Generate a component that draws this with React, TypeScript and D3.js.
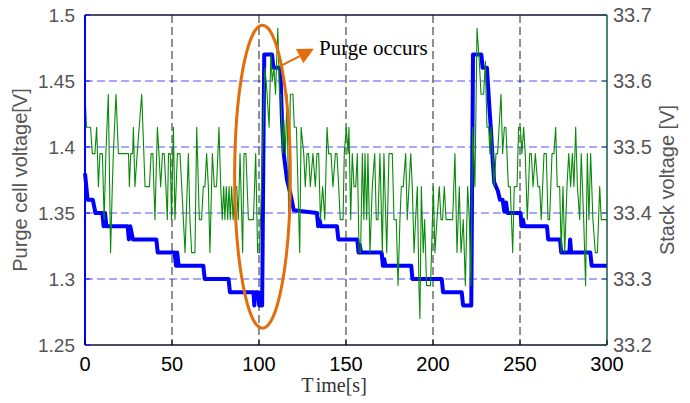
import React from "react";
import * as d3 from "d3";

// ---- data ----
const timeTicks = [0, 50, 100, 150, 200, 250, 300];
const leftTicks = [1.25, 1.3, 1.35, 1.4, 1.45, 1.5];
const rightTicks = [33.2, 33.3, 33.4, 33.5, 33.6, 33.7];

// Purge cell voltage [V] (left axis): [time s, value]
const purgeCell: [number, number][] = [
  [0, 1.38], [1.5, 1.36], [4.5, 1.36], [6, 1.35], [10, 1.35], [10.7, 1.34], [11.5, 1.35], [12.3, 1.34],
  [24.5, 1.34], [25.2, 1.33], [26, 1.34], [27.5, 1.33], [41, 1.33], [41.8, 1.32], [51.5, 1.32], [52.3, 1.31],
  [53, 1.32], [53.8, 1.31], [68, 1.31], [68.8, 1.3], [82.5, 1.3], [83.3, 1.29], [96.8, 1.29], [97.3, 1.28],
  [97.9, 1.29], [99.6, 1.29], [100.1, 1.28], [101.8, 1.28], [103, 1.47], [107.5, 1.47], [108.3, 1.46],
  [112.3, 1.46], [113.2, 1.42], [114.2, 1.395], [116.1, 1.375], [118, 1.365], [120, 1.352], [133.3, 1.35],
  [134, 1.34], [134.8, 1.345], [135.5, 1.34], [144.8, 1.34], [145.6, 1.33], [156.5, 1.33], [157.2, 1.32],
  [157.9, 1.326], [158.6, 1.32], [170.5, 1.32], [171.2, 1.31], [172, 1.315], [172.6, 1.31], [187.5, 1.31],
  [188.2, 1.3], [205, 1.3], [205.8, 1.29], [216.5, 1.29], [217.3, 1.28], [222, 1.28], [223, 1.47],
  [227.8, 1.47], [228.5, 1.46], [231, 1.46], [232.4, 1.43], [233.3, 1.413], [234.3, 1.39], [235.2, 1.373],
  [237.2, 1.367], [238.5, 1.36], [240, 1.36], [241, 1.351], [242, 1.358], [242.8, 1.35], [250.3, 1.35],
  [251, 1.34], [251.7, 1.345], [252.4, 1.34], [265.5, 1.34], [266.2, 1.33], [273, 1.33], [273.7, 1.32],
  [278.4, 1.32], [278.8, 1.33], [279.4, 1.32], [290.4, 1.32], [291.2, 1.31], [300, 1.31],
];

// Stack voltage [V] (right axis): [time s, value]
const stackVoltage: [number, number][] = [
  [0, 33.58], [0.9, 33.53], [3.2, 33.53], [4.2, 33.49], [5.7, 33.49], [6.7, 33.53], [7.7, 33.44], [8.6, 33.49],
  [10, 33.49], [11, 33.39], [12, 33.49], [13.4, 33.58], [14.7, 33.34], [15.7, 33.44], [16.3, 33.49], [17.8, 33.58],
  [19.2, 33.49], [25, 33.49], [25.5, 33.44], [26.3, 33.49], [27.4, 33.49], [27.8, 33.53], [28.7, 33.44], [30, 33.49],
  [32.6, 33.58], [34.5, 33.44], [37, 33.44], [38, 33.49], [39, 33.49], [40.2, 33.39], [41.6, 33.53], [42.5, 33.49],
  [43.5, 33.44], [44.5, 33.49], [45.5, 33.49], [46.5, 33.44], [47.3, 33.39], [48, 33.49], [49, 33.49], [49.7, 33.39],
  [50.8, 33.53], [51.7, 33.39], [53.1, 33.49], [54.6, 33.49], [55.6, 33.44], [57.5, 33.34], [59.4, 33.49], [60.3, 33.39],
  [61.3, 33.34], [63.2, 33.34], [64.2, 33.53], [65.7, 33.39], [67.0, 33.39], [68.0, 33.44], [68.9, 33.44], [69.9, 33.49],
  [70.9, 33.44], [71.8, 33.34], [73.2, 33.49], [74.3, 33.44], [75.6, 33.44], [77.0, 33.53], [78.0, 33.44], [78.9, 33.39],
  [79.7, 33.44], [80.4, 33.39], [81.2, 33.44], [82.0, 33.39], [82.8, 33.44], [83.5, 33.39], [84.3, 33.44], [85.1, 33.39],
  [86.2, 33.44], [87.2, 33.44], [88.1, 33.39], [89.1, 33.49], [90.6, 33.34], [91.4, 33.49], [92.5, 33.49], [93.9, 33.39],
  [96.8, 33.39], [98.1, 33.49], [99.2, 33.34], [100.3, 33.34], [101.5, 33.45], [103.4, 33.62], [104.4, 33.59], [105.8, 33.53],
  [106.8, 33.64], [107.6, 33.6], [108.6, 33.62], [109.5, 33.58], [110.8, 33.68], [111.8, 33.58], [112.6, 33.58], [113.5, 33.49],
  [114.3, 33.54], [115.2, 33.49], [116.1, 33.58], [117.1, 33.39], [118, 33.58], [119.5, 33.58], [120.3, 33.53], [121.5, 33.53],
  [123.4, 33.34], [124.2, 33.53], [125.7, 33.49], [126.6, 33.44], [127.6, 33.49], [128.5, 33.49], [129.5, 33.44], [131.0, 33.49],
  [132.4, 33.44], [133.3, 33.49], [134.3, 33.49], [135.3, 33.39], [136.6, 33.44], [137.8, 33.39], [139.1, 33.53], [140.0, 33.49],
  [141.4, 33.49], [142.5, 33.44], [143.9, 33.49], [144.8, 33.49], [145.8, 33.44], [146.7, 33.39], [148.3, 33.39], [149.0, 33.49],
  [150.2, 33.53], [151.2, 33.49], [151.7, 33.53], [152.7, 33.39], [153.6, 33.49], [154.6, 33.44], [155.6, 33.44], [156.5, 33.49],
  [157.5, 33.34], [158.4, 33.34], [159.4, 33.49], [160.3, 33.39], [160.9, 33.49], [161.9, 33.39], [162.6, 33.49], [163.8, 33.34],
  [165.1, 33.44], [166.5, 33.49], [167.4, 33.39], [168.4, 33.39], [169.5, 33.49], [170.9, 33.34], [171.8, 33.49], [173.4, 33.34],
  [174.7, 33.49], [176.6, 33.49], [177.6, 33.39], [178.9, 33.39], [179.9, 33.29], [181.0, 33.39], [181.8, 33.44], [182.9, 33.44],
  [184.3, 33.49], [185.2, 33.39], [186.2, 33.44], [187.2, 33.49], [188.1, 33.44], [189.1, 33.34], [190.0, 33.39], [191.0, 33.44],
  [191.9, 33.29], [192.5, 33.24], [193.3, 33.44], [194.4, 33.34], [195.2, 33.39], [196.3, 33.29], [197.7, 33.29], [198.6, 33.29],
  [200.2, 33.44], [201.1, 33.34], [202.3, 33.39], [203.6, 33.44], [204.6, 33.39], [205.5, 33.39], [206.5, 33.44], [207.5, 33.39],
  [211.3, 33.39], [212.6, 33.49], [213.8, 33.34], [215.1, 33.44], [216.1, 33.34], [217.4, 33.39], [218.6, 33.29], [219.9, 33.44],
  [220.9, 33.39], [221.8, 33.29], [222.8, 33.53], [224.1, 33.44], [225.3, 33.68], [226.6, 33.63], [227.6, 33.58], [229.1, 33.58],
  [230.1, 33.63], [231.0, 33.53], [232.0, 33.53], [232.7, 33.49], [233.3, 33.53], [234.3, 33.49], [235.2, 33.44], [236.2, 33.49],
  [237.1, 33.49], [239.1, 33.58], [240.0, 33.49], [241.0, 33.53], [241.9, 33.53], [243.3, 33.44], [244.4, 33.44], [245.8, 33.34],
  [246.7, 33.44], [248.3, 33.44], [249.2, 33.53], [250.2, 33.53], [251.1, 33.49], [252.1, 33.53], [253.0, 33.49], [254.2, 33.39],
  [255.6, 33.49], [256.5, 33.49], [257.5, 33.44], [258.8, 33.49], [260.3, 33.44], [261.3, 33.44], [262.2, 33.39], [263.8, 33.49],
  [265.1, 33.49], [266.1, 33.39], [267.0, 33.39], [268.4, 33.49], [269.5, 33.49], [270.5, 33.53], [271.4, 33.44], [272.8, 33.44],
  [273.7, 33.34], [274.7, 33.44], [275.7, 33.34], [277.0, 33.44], [278.0, 33.49], [279.1, 33.44], [280.1, 33.49], [281.0, 33.44],
  [282.0, 33.53], [283.0, 33.44], [284.3, 33.39], [285.2, 33.49], [286.6, 33.39], [287.7, 33.29], [288.7, 33.49], [289.6, 33.39],
  [290.6, 33.49], [291.9, 33.39], [293.3, 33.34], [294.5, 33.34], [295.8, 33.44], [296.7, 33.39], [298.3, 33.39], [300, 33.39],
];

// annotation (data coordinates: time, left-axis value)
const purgeEllipse = { t: 102, v: 1.3775, halfT: 16, halfV: 0.1148 };
const purgeArrow = { from: [112, 1.461], to: [131.5, 1.4745] };
const purgeLabel = { t: 134.5, v: 1.47, text: "Purge occurs" };

const W = 690;
const H = 403;
const L = 85, R = 607, T = 15, B = 345;

export default function App() {
  const x = d3.scaleLinear().domain([0, 300]).range([L, R]);
  const yL = d3.scaleLinear().domain([1.25, 1.5]).range([B, T]);
  const yR = d3.scaleLinear().domain([33.2, 33.7]).range([B, T]);

  const blueLine = d3.line<[number, number]>().x((d) => x(d[0])).y((d) => yL(d[1]))(purgeCell) || "";
  const greenLine = d3.line<[number, number]>().x((d) => x(d[0])).y((d) => yR(d[1]))(stackVoltage) || "";

  const ecx = x(purgeEllipse.t);
  const ecy = yL(purgeEllipse.v);
  const erx = x(purgeEllipse.t + purgeEllipse.halfT) - ecx;
  const ery = yL(purgeEllipse.v - purgeEllipse.halfV) - ecy;

  const ax1 = x(purgeArrow.from[0]), ay1 = yL(purgeArrow.from[1]);
  const ax2 = x(purgeArrow.to[0]), ay2 = yL(purgeArrow.to[1]);
  const ang = Math.atan2(ay2 - ay1, ax2 - ax1);
  const headLen = 16, headW = 8;
  const bx = ax2 - headLen * Math.cos(ang), by = ay2 - headLen * Math.sin(ang);
  const px = -Math.sin(ang), py = Math.cos(ang);
  const head = `${ax2},${ay2} ${bx + px * headW},${by + py * headW} ${bx - px * headW},${by - py * headW}`;

  const orange = "#e46c0a";
  const sans = "Liberation Sans, Arial, sans-serif";
  const serif = "Liberation Serif, Times New Roman, serif";

  return (
    <svg width={W} height={H} style={{ position: "absolute", left: 0, top: 0, background: "#fff" }}>
      <rect x={0} y={0} width={W} height={H} fill="#fff" />
      {/* grid */}
      {leftTicks.filter((v) => v > 1.25 && v < 1.5).map((v) => (
        <line key={"hg" + v} x1={L} x2={R} y1={yL(v)} y2={yL(v)} stroke="#5050ff" strokeWidth={1} strokeDasharray="8,4" />
      ))}
      {timeTicks.filter((t) => t > 0 && t < 300).map((t) => (
        <line key={"vg" + t} x1={x(t)} x2={x(t)} y1={T} y2={B} stroke="#222" strokeWidth={1} strokeDasharray="8,4" />
      ))}

      {/* series */}
      <path d={blueLine} fill="none" stroke="#0000ff" strokeWidth={4} strokeLinejoin="round" />
      <path d={greenLine} fill="none" stroke="#0a8a0a" strokeWidth={1.1} strokeLinejoin="round" />

      {/* annotation */}
      <ellipse cx={ecx} cy={ecy} rx={erx} ry={ery} fill="none" stroke={orange} strokeWidth={3} />
      <line x1={ax1} y1={ay1} x2={bx} y2={by} stroke={orange} strokeWidth={2} />
      <polygon points={head} fill={orange} />
      <text x={x(purgeLabel.t)} y={yL(purgeLabel.v)} fontFamily={serif} fontSize={21} fill="#000">
        {purgeLabel.text}
      </text>

      {/* axes frame */}
      <line x1={L} x2={R} y1={T} y2={T} stroke="#101030" strokeWidth={1.5} />
      <line x1={L} x2={R} y1={B} y2={B} stroke="#101030" strokeWidth={1.5} />
      <line x1={L} x2={L} y1={T} y2={B} stroke="#0000ff" strokeWidth={2} />
      <line x1={R} x2={R} y1={T} y2={B} stroke="#135c45" strokeWidth={1.5} />

      {/* ticks */}
      {timeTicks.map((t) => (
        <g key={"xt" + t}>
          <line x1={x(t)} x2={x(t)} y1={B} y2={B - 5} stroke="#000" strokeWidth={1} />
          <text x={x(t)} y={B + 26} textAnchor="middle" fontFamily={sans} fontSize={20} fill="#000">
            {t}
          </text>
        </g>
      ))}
      {leftTicks.map((v) => (
        <g key={"lt" + v}>
          <line x1={L} x2={L + 5} y1={yL(v)} y2={yL(v)} stroke="#0000ff" strokeWidth={1} />
          <text x={L - 10} y={yL(v)} dy="0.36em" textAnchor="end" fontFamily={sans} fontSize={19} fill="#555">
            {String(v)}
          </text>
        </g>
      ))}
      {rightTicks.map((v) => (
        <g key={"rt" + v}>
          <line x1={R - 5} x2={R} y1={yR(v)} y2={yR(v)} stroke="#135c45" strokeWidth={1} />
          <text x={R + 6} y={yR(v)} dy="0.36em" textAnchor="start" fontFamily={sans} fontSize={20} fill="#555">
            {v.toFixed(1)}
          </text>
        </g>
      ))}

      {/* axis titles */}
      <text transform={`translate(27,${(T + B) / 2}) rotate(-90)`} textAnchor="middle" fontFamily={sans} fontSize={20} fill="#555">
        Purge cell voltage[V]
      </text>
      <text transform={`translate(674,${(T + B) / 2}) rotate(-90)`} textAnchor="middle" fontFamily={sans} fontSize={20} fill="#555">
        Stack voltage [V]
      </text>
      <text x={334} y={392} textAnchor="middle" fontFamily={serif} fontSize={20} fill="#333">
        T<tspan dx={3}>ime[s]</tspan>
      </text>
    </svg>
  );
}
